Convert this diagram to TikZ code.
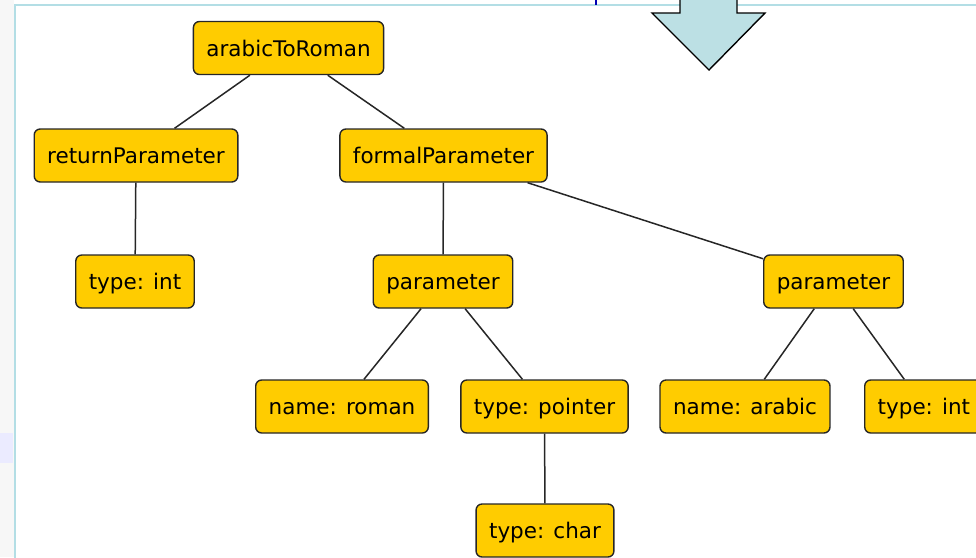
\documentclass[tikz,border=0pt]{standalone}
\usepackage{fontspec}
\setmainfont{DejaVu Sans}
\usepackage{tikz}
\usetikzlibrary{positioning}
\definecolor{boxfill}{HTML}{FFCC00}
\definecolor{arrowfill}{HTML}{BCE0E4}
\definecolor{framecol}{HTML}{B3DEE5}
\tikzset{
    treenode/.style={
        draw=black!85,
        fill=boxfill,
        rounded corners=6pt,
        line width=1.4pt,
        minimum height=53pt,
        inner xsep=13pt,
        text height=16pt,
        text depth=0pt,
        font=\fontsize{21.5}{24}\selectfont
    },
    treeedge/.style={
        draw=black!85,
        line width=1.5pt
    }
}

\begin{document}
\begin{tikzpicture}[x=1pt, y=-1pt]
    \useasboundingbox (0,0) rectangle (976,557);
    \clip (0,0) rectangle (976,557);
    % Frame
    \fill[black!3] (0,0) rectangle (14,557);
    \fill[blue!8] (0,433) rectangle (13,463);
    \draw[framecol, line width=2pt] (15,560) -- (15,5) -- (980,5);
    \draw[blue!70!black, line width=1.2pt] (596,0) -- (596,5);
    % Arrow
    \draw[fill=arrowfill, line width=1.4pt, line join=miter]
        (680,-3) -- (680,13) -- (652,13) -- (709,70) -- (765,13)
        -- (737,13) -- (737,-3);

    % Nodes
    \node[treenode] (root) at (288.5,48) {arabicToRoman};
    \node[treenode] (ret) at (136,155.5) {returnParameter};
    \node[treenode] (formal) at (443.5,155.5) {formalParameter};
    \node[treenode] (rettype) at (135,281.5) {type: int};
    \node[treenode] (parA) at (443,281.5) {parameter};
    \node[treenode] (parB) at (833.5,281.5) {parameter};
    \node[treenode] (nameA) at (342,406.5) {name: roman};
    \node[treenode] (typeA) at (544.5,406.5) {type: pointer};
    \node[treenode] (nameB) at (745,406.5) {name: arabic};
    \node[treenode, anchor=west] (typeB) at (864,406.5) {type: int};
    \node[treenode] (charA) at (545,530.5) {type: char};

    % Edges
    \draw[treeedge] (root) -- (ret);
    \draw[treeedge] (root) -- (formal);
    \draw[treeedge] (ret) -- (rettype);
    \draw[treeedge] (formal) -- (parA);
    \draw[treeedge] (formal) -- (parB);
    \draw[treeedge] (parA) -- (nameA);
    \draw[treeedge] (parA) -- (typeA);
    \draw[treeedge] (parB) -- (nameB);
    \draw[treeedge] (parB) -- (typeB);
    \draw[treeedge] (typeA) -- (charA);
\end{tikzpicture}
\end{document}
